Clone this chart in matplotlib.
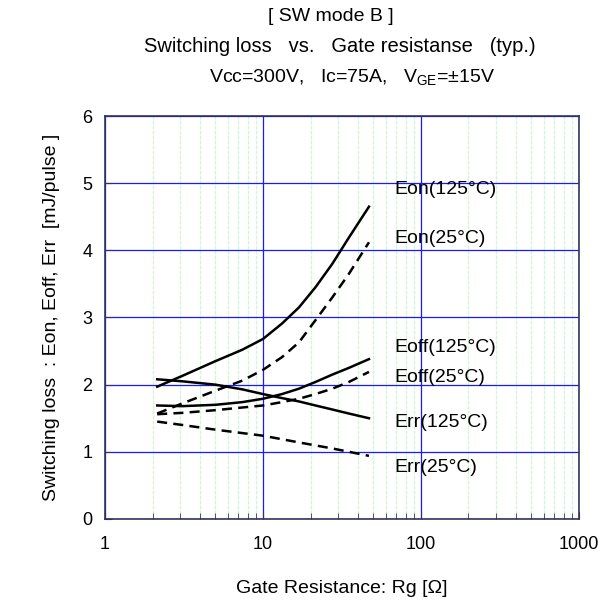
import numpy as np
import matplotlib.pyplot as plt

plt.rcParams['font.family'] = ['Liberation Sans', 'DejaVu Sans']

# Gate resistance [ohm] and losses [mJ/pulse]
rg = [2.14, 3.08, 5.0, 7.4, 10, 13.2, 16.9, 21.5, 27.5, 35, 46.9]
eon125 = [1.97, 2.13, 2.35, 2.52, 2.68, 2.91, 3.15, 3.45, 3.80, 4.19, 4.65]
eon25 = [1.57, 1.72, 1.91, 2.06, 2.22, 2.41, 2.63, 2.96, 3.30, 3.65, 4.12]
eoff125 = [1.69, 1.68, 1.70, 1.74, 1.79, 1.86, 1.94, 2.04, 2.15, 2.25, 2.38]
eoff25 = [1.56, 1.58, 1.62, 1.66, 1.69, 1.74, 1.79, 1.86, 1.94, 2.04, 2.19]
err125 = [2.08, 2.05, 2.00, 1.93, 1.86, 1.80, 1.75, 1.69, 1.63, 1.57, 1.50]
rg_err25 = [2.14, 3.08, 5.0, 10, 16.9, 27.5, 46.9]
err25 = [1.45, 1.40, 1.33, 1.24, 1.14, 1.05, 0.94]

labels = ['Eon(125°C)', 'Eon(25°C)', 'Eoff(125°C)', 'Eoff(25°C)', 'Err(125°C)', 'Err(25°C)']
label_y = [4.9, 4.17, 2.55, 2.1, 1.43, 0.76]

fig = plt.figure(figsize=(5.98, 6.02), dpi=100)
ax = fig.add_axes([0.1756, 0.1379, 0.7924, 0.6694])

ax.set_xscale('log')
ax.set_xlim(1, 1000)
ax.set_ylim(0, 6)

# grid
ax.grid(True, which='minor', axis='x', color='#d2f5d2', lw=0.9, ls=(0, (3, 1)))
ax.grid(True, which='major', axis='both', color='#1a1aff', lw=0.9)
ax.set_axisbelow(True)

series = [(rg, eon125, '-'), (rg, eon25, '--'),
          (rg, eoff125, '-'), (rg, eoff25, '--'),
          (rg, err125, '-'), (rg_err25, err25, '--')]
for x, y, ls in series:
    if ls == '--':
        ax.plot(x, y, color='black', lw=1.8, ls='--', dashes=(4, 2.5))
    else:
        ax.plot(x, y, color='black', lw=1.8)

for lab, ly in zip(labels, label_y):
    ax.text(68, ly, lab, fontsize=14, va='center', ha='left')

for s in ax.spines.values():
    s.set_color('#33335a')
    s.set_linewidth(1.2)

ax.set_yticks(range(7))
ax.set_xticks([1, 10, 100, 1000])
ax.set_xticklabels(['1', '10', '100', '1000'])
ax.tick_params(which='both', direction='in', labelsize=13, color='#33335a')
ax.tick_params(which='major', length=5)
ax.tick_params(which='minor', length=4)
ax.tick_params(axis='x', pad=12)
ax.tick_params(axis='y', pad=9)

ax.set_xlabel('Gate Resistance: Rg [Ω]', fontsize=14, labelpad=20)
ax.set_ylabel('Switching loss  : Eon, Eoff, Err  [mJ/pulse ]', fontsize=14, labelpad=16)

fig.text(0.553, 0.973, '[ SW mode B ]', fontsize=14, ha='center', va='center')
fig.text(0.569, 0.922, 'Switching loss   vs.   Gate resistanse   (typ.)', fontsize=14.5, ha='center', va='center')
fig.text(0.589, 0.870, r'Vcc=300V,   Ic=75A,   V$_{\mathregular{GE}}$=±15V', fontsize=14, ha='center', va='center')

fig.savefig('out.png', dpi=100)
